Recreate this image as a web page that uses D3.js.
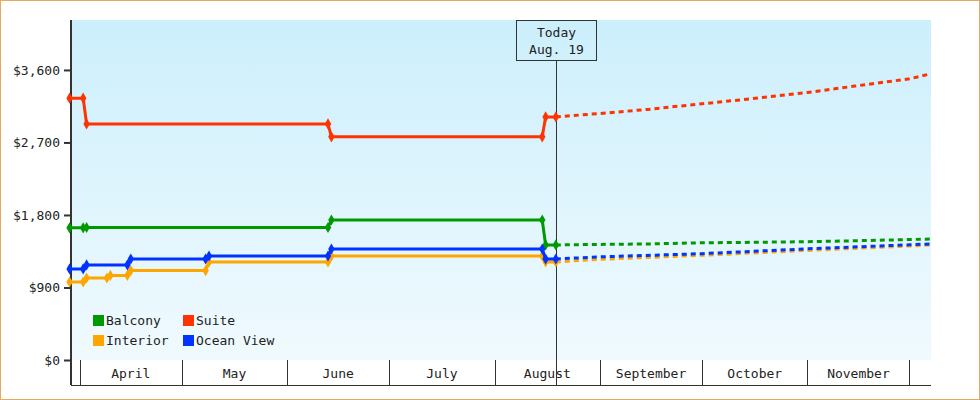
<!DOCTYPE html>
<html><head><meta charset="utf-8">
<script src="https://cdn.jsdelivr.net/npm/d3@7"></script>
<style>body{margin:0;background:#fff}svg{display:block}text{font-family:"DejaVu Sans Mono",monospace;font-size:13px;fill:#222}</style>
</head><body><svg id="c" width="980" height="400"></svg>
<script>
const seriesNames = ["Balcony","Suite","Interior","Ocean View"];
const seriesColors = ["#009900","#ff3300","#ffa500","#0033ff"];
const suiteHist = [["2023-03-29",3250],["2023-04-02",3250],["2023-04-03",2930],["2023-06-13",2930],["2023-06-14",2770],["2023-08-15",2770],["2023-08-16",3017],["2023-08-19",3017]];
const suiteFcst = [["2023-08-19",3017],["2023-09-01",3060],["2023-09-15",3110],["2023-10-01",3180],["2023-10-15",3240],["2023-11-01",3320],["2023-11-15",3400],["2023-12-01",3490],["2023-12-07",3550]];
const balconyHist = [["2023-03-29",1640],["2023-04-02",1640],["2023-04-03",1645],["2023-06-13",1645],["2023-06-14",1738],["2023-08-15",1738],["2023-08-16",1428],["2023-08-19",1428]];
const balconyFcst = [["2023-08-19",1428],["2023-09-01",1435],["2023-09-15",1440],["2023-10-01",1455],["2023-10-15",1460],["2023-11-01",1468],["2023-11-15",1480],["2023-12-01",1495],["2023-12-07",1502]];
const oceanHist = [["2023-03-29",1130],["2023-04-02",1130],["2023-04-03",1180],["2023-04-15",1180],["2023-04-16",1254],["2023-05-08",1254],["2023-05-09",1291],["2023-06-13",1291],["2023-06-14",1378],["2023-08-15",1378],["2023-08-16",1254],["2023-08-19",1254]];
const oceanFcst = [["2023-08-19",1254],["2023-09-01",1280],["2023-10-01",1320],["2023-11-01",1380],["2023-12-01",1430],["2023-12-07",1440]];
const interiorHist = [["2023-03-29",968],["2023-04-02",968],["2023-04-03",1018],["2023-04-09",1018],["2023-04-10",1050],["2023-04-15",1050],["2023-04-16",1110],["2023-05-08",1110],["2023-05-09",1217],["2023-06-13",1217],["2023-06-14",1291],["2023-08-15",1291],["2023-08-16",1217],["2023-08-19",1217]];
const interiorFcst = [["2023-08-19",1217],["2023-09-01",1250],["2023-10-01",1300],["2023-11-01",1360],["2023-12-01",1415],["2023-12-07",1428]];
const yTicks = [0,900,1800,2700,3600];
const monthLabels = ["April","May","June","July","August","September","October","November"];
const todayDate = "2023-08-19";
const todayLabel = ["Today","Aug. 19"];

const P = d3.timeParse("%Y-%m-%d");
const svg = d3.select("#c");
svg.append("rect").attr("x",0.5).attr("y",0.5).attr("width",979).attr("height",399).attr("fill","#fff").attr("stroke","#e8a860");
const L=71,R=931,T=20,B=360;
const x = d3.scaleTime().domain([new Date(2023,2,29,10),new Date(2023,11,7,8)]).range([L,R]);
const y = d3.scaleLinear().domain([0,4220]).range([B,T]);
const defs = svg.append("defs");
const g = defs.append("linearGradient").attr("id","bg").attr("x1",0).attr("x2",0).attr("y1",0).attr("y2",1);
g.append("stop").attr("offset",0).attr("stop-color","#cceffc");
g.append("stop").attr("offset",1).attr("stop-color","#f0fafe");
svg.append("rect").attr("x",L).attr("y",T).attr("width",R-L).attr("height",B-T).attr("fill","url(#bg)");

// y axis
svg.append("g").attr("transform",`translate(${L},0)`).call(d3.axisLeft(y).tickValues(yTicks).tickFormat(d=>"$"+d3.format(",")(d)).tickSize(7).tickSizeOuter(0))
 .call(a=>{a.select(".domain").remove();a.selectAll("line").attr("stroke","#333").attr("stroke-width",2);a.selectAll("text").attr("font-family","DejaVu Sans Mono").attr("font-size",13).attr("fill","#222").attr("dx",-1);});
svg.append("line").attr("x1",L).attr("x2",L).attr("y1",T).attr("y2",385).attr("stroke","#333").attr("stroke-width",2);

// month boxes
const months = d3.timeMonth.range(new Date(2023,3,1),new Date(2023,11,2));
svg.append("line").attr("x1",L).attr("x2",R).attr("y1",385.5).attr("y2",385.5).attr("stroke","#333");
months.forEach((m,i)=>{
  svg.append("line").attr("x1",Math.round(x(m))+0.5).attr("x2",Math.round(x(m))+0.5).attr("y1",B).attr("y2",385).attr("stroke","#333");
  if(i<monthLabels.length){
    const mid = x(new Date(m.getTime()+ (d3.timeMonth.offset(m,1)-m)/2));
    svg.append("text").attr("x",mid).attr("y",378).attr("text-anchor","middle").text(monthLabels[i]);
  }
});

// today
const tx = Math.round(x(P(todayDate)))+0.5;
svg.append("line").attr("x1",tx).attr("x2",tx).attr("y1",61).attr("y2",385).attr("stroke","#333");
svg.append("rect").attr("x",tx-40).attr("y",20.5).attr("width",80).attr("height",40).attr("fill","none").attr("stroke","#333");
svg.append("text").attr("x",tx).attr("y",37).attr("text-anchor","middle").text(todayLabel[0]);
svg.append("text").attr("x",tx).attr("y",54).attr("text-anchor","middle").text(todayLabel[1]);

const line = d3.line().x(d=>x(P(d[0]))).y(d=>y(d[1]));
const sets = [[balconyHist,balconyFcst,0],[interiorHist,interiorFcst,2],[oceanHist,oceanFcst,3],[suiteHist,suiteFcst,1]];
sets.forEach(([h,f,ci])=>{
  const c=seriesColors[ci];
  svg.append("path").attr("d",line(f)).attr("fill","none").attr("stroke",c).attr("stroke-width",3).attr("stroke-dasharray","5,4");
  svg.append("path").attr("d",line(h)).attr("fill","none").attr("stroke",c).attr("stroke-width",3);
  svg.selectAll(null).data(h).enter().append("path").attr("d",d3.symbol(d3.symbolDiamond,36)())
    .attr("transform",d=>`translate(${x(P(d[0]))},${y(d[1])})`).attr("fill",c);
});

// legend
const lg=[[0,93,320],[1,183,320],[2,93,340],[3,183,340]];
lg.forEach(([i,lx,ly])=>{
  svg.append("rect").attr("x",lx).attr("y",ly-5).attr("width",11).attr("height",11).attr("fill",seriesColors[i]);
  svg.append("text").attr("x",lx+13).attr("y",ly+5).text(seriesNames[i]);
});
</script></body></html>
